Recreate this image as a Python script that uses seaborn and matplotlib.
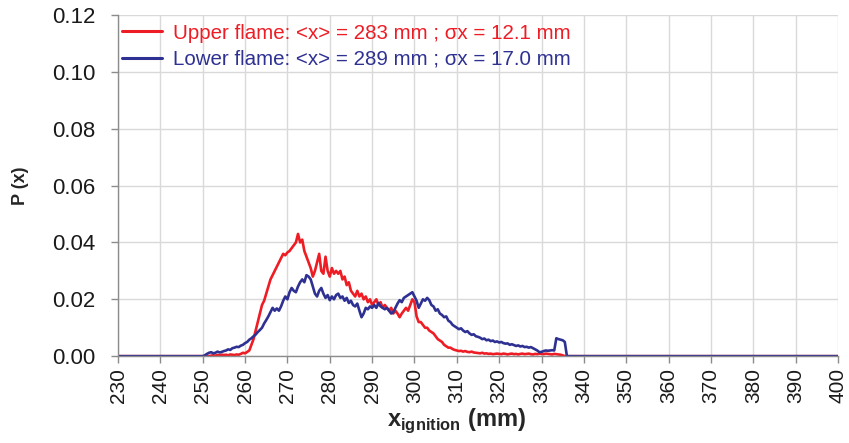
import numpy as np
import pandas as pd
import matplotlib
matplotlib.use("Agg")
import matplotlib.pyplot as plt
import seaborn as sns

# ---- data (P values in units of 1e-3, step 0.5 mm from 250 to 337) ----
x_start, x_end, x_step = 250.0, 337.0, 0.5
upper_e3 = [
    0, 0, 0, 0, 0.2, 0.3, 0.2, 0.4, 0.3, 0.5,
    0.4, 0.5, 0.3, 0.6, 0.5, 0.4, 0.6, 0.5, 0.8, 1.2,
    1.0, 1.5, 2.0, 4.0, 6.0, 9.0, 12.0, 15.0, 18.0, 19.5,
    22.0, 24.5, 27.0, 28.5, 30.0, 31.5, 33.0, 34.5, 36.0, 35.5,
    36.5, 37.0, 38.0, 39.0, 40.0, 43.0, 40.0, 41.0, 37.0, 35.0,
    33.0, 31.0, 28.0, 30.0, 33.0, 36.0, 30.0, 29.0, 35.0, 30.0,
    28.0, 31.0, 29.0, 30.0, 29.0, 30.0, 27.0, 28.0, 25.0, 26.0,
    23.0, 22.0, 21.0, 23.0, 21.0, 22.0, 20.0, 21.0, 19.0, 20.0,
    18.0, 19.0, 20.0, 18.0, 19.0, 17.0, 18.0, 17.0, 16.0, 17.0,
    15.0, 16.0, 15.0, 13.7, 15.0, 16.0, 17.0, 16.0, 18.0, 20.0,
    19.0, 14.0, 12.0, 12.0, 11.0, 10.0, 10.0, 9.0, 8.5, 8.0,
    7.0, 6.0, 5.5, 5.0, 4.0, 3.5, 3.0, 3.0, 2.5, 2.2,
    2.0, 1.8, 1.9, 1.6, 1.8, 1.5, 1.4, 1.6, 1.3, 1.2,
    1.1, 1.0, 1.2, 0.9, 1.0, 0.8, 0.9, 0.7, 0.8, 0.9,
    0.8, 0.7, 0.9, 0.8, 0.6, 0.8, 0.9, 0.7, 0.8, 0.6,
    0.8, 0.9, 0.7, 0.8, 0.9, 0.7, 0.6, 0.8, 0.7, 0.9,
    0.8, 0.7, 0.9, 0.8, 0.7, 0.6, 0.8, 0.7, 0.6, 0.5,
    0.3, 0, 0, 0, 0,
]
lower_e3 = [
    0, 0.3, 0.8, 1.2, 1.4, 1.0, 1.2, 1.6, 1.3, 1.5,
    1.8, 2.0, 2.4, 2.2, 2.8, 3.0, 3.3, 3.2, 3.7, 4.0,
    4.6, 5.0, 5.8, 6.3, 7.0, 7.6, 8.5, 9.2, 10.0, 11.5,
    12.7, 14.0, 15.5, 17.0, 16.0, 16.8, 16.0, 17.5, 19.5, 21.0,
    20.0, 22.5, 24.0, 23.0, 22.5, 24.5, 26.0, 27.0, 26.0, 28.5,
    28.0, 27.0, 24.5, 22.0, 21.0, 23.0, 24.0, 22.0, 20.5, 21.5,
    19.7, 21.0, 20.0, 21.5, 22.0, 20.5, 21.0, 19.5, 20.5, 18.7,
    19.5, 18.0, 17.5, 18.5, 16.0, 13.7, 15.0, 17.0, 16.5, 17.5,
    17.0, 18.0, 17.0, 18.7, 17.5, 17.0, 16.5, 17.0, 16.0, 15.0,
    15.5, 17.0, 18.5, 19.7, 19.0, 20.5, 21.0, 21.5, 22.0, 22.5,
    21.0, 19.5, 17.0, 18.5, 20.0, 19.5, 20.5, 19.7, 18.0, 17.5,
    16.0, 16.5, 15.0, 14.5, 13.7, 14.0, 12.5, 12.0, 11.0, 10.5,
    10.0, 9.5, 9.8, 9.0, 8.5, 8.8, 8.0, 7.5, 7.7, 7.0,
    6.8, 6.5, 6.0, 6.2, 5.6, 5.8, 5.3, 5.5, 5.0, 5.2,
    4.8, 5.0, 4.6, 4.4, 4.5, 4.0, 4.2, 3.9, 3.6, 3.8,
    3.4, 3.6, 3.2, 3.3, 3.0, 3.2, 2.8, 2.4, 2.0, 1.4,
    1.5, 1.8, 2.0, 1.9, 2.0, 2.1, 2.0, 6.3, 6.0, 5.8,
    5.6, 5.0, 0, 0, 0,
]
x_min, x_max = 230, 400
labels = ["Upper flame: <x> = 283 mm ; σx = 12.1 mm",
          "Lower flame: <x> = 289 mm ; σx = 17.0 mm"]
colors = ["#ee1c24", "#2e3192"]

# ---- build long-form table (curve is zero outside the measured window) ----
x_mm = np.arange(x_start, x_end + x_step / 2, x_step)
frames = []
for lab, vals in zip(labels, [upper_e3, lower_e3]):
    xx = np.concatenate([[x_min], x_mm, [x_max]])
    pp = np.concatenate([[0.0], np.array(vals) / 1000.0, [0.0]])
    frames.append(pd.DataFrame({"x": xx, "P": pp, "flame": lab}))
df = pd.concat(frames, ignore_index=True)

sns.set_style("whitegrid")
plt.rcParams["font.family"] = ["Liberation Sans", "DejaVu Sans"]

fig = plt.figure(figsize=(8.49, 4.43), dpi=100)
ax = fig.add_axes([0.139, 0.196, 0.848, 0.770])

sns.lineplot(data=df, x="x", y="P", hue="flame", palette=colors,
             estimator=None, sort=True, linewidth=1.9, ax=ax)

ax.set_xlim(x_min, x_max)
ax.set_ylim(0, 0.12)
ax.set_xticks(np.arange(x_min, x_max + 1, 10))
ax.set_yticks(np.arange(0, 0.121, 0.02))
ax.set_yticklabels([f"{v:.2f}" for v in np.arange(0, 0.121, 0.02)], fontsize=16)
ax.set_xticklabels([str(v) for v in range(x_min, x_max + 1, 10)], rotation=90, fontsize=15)

ax.grid(True, color="#d9d9d9", linewidth=1.0)
for side in ["top", "right"]:
    ax.spines[side].set_visible(False)
for side in ["left", "bottom"]:
    ax.spines[side].set_color("#8c8c8c")
    ax.spines[side].set_linewidth(1.0)
ax.tick_params(axis="both", direction="out", length=5, width=1.0, color="#8c8c8c",
               labelcolor="#1a1a1a", bottom=True, left=True)
ax.tick_params(axis="y", pad=11)

ax.set_ylabel("P (x)", fontsize=13, fontweight="bold")
ax.yaxis.set_label_coords(-0.123, 0.5)
ax.set_xlabel(r"x$_{\mathregular{ignition}}$ (mm)", fontsize=17, fontweight="bold")
ax.xaxis.set_label_coords(0.47, -0.148)

leg = ax.legend(loc="upper left", bbox_to_anchor=(0.0056, 0.975), frameon=False,
                fontsize=14.8, handlelength=1.95, handletextpad=0.53,
                labelspacing=0.36, borderaxespad=0.0, borderpad=0.0)
for txt, col in zip(leg.get_texts(), colors):
    txt.set_color(col)
for line in leg.get_lines():
    line.set_linewidth(2.2)

fig.savefig("out.png", dpi=100)
